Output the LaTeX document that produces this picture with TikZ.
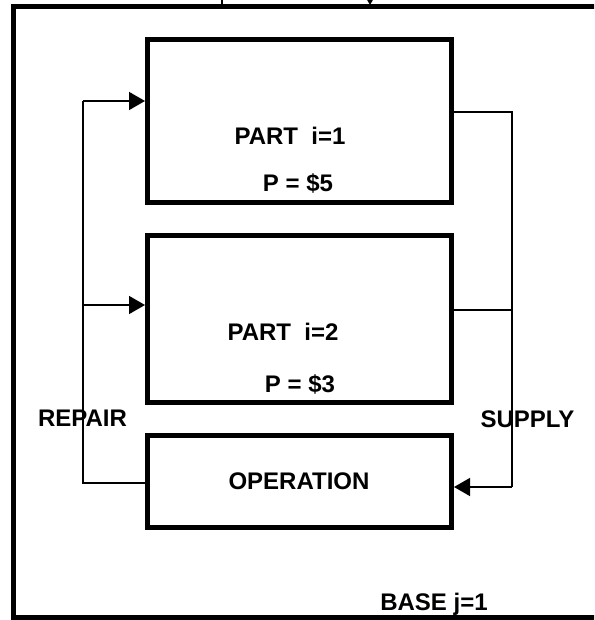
\documentclass[tikz,border=0pt]{standalone}
\usepackage{fontspec}
\setmainfont{Liberation Sans}
\usetikzlibrary{arrows.meta}
\tikzset{
  box/.style={draw, line width=5pt, inner sep=0pt},
  lbl/.style={inner sep=0pt, font=\bfseries\fontsize{24}{28}\selectfont},
  flow/.style={line width=1.5pt},
  tip/.style={-{Triangle[length=16pt,width=18pt]}}
}
\begin{document}
\begin{tikzpicture}[x=1pt,y=-1pt]
        \clip (0,0) rectangle (594,620);
        % Cornice
        \draw [line width=5pt] (620,7) -- (13,7) -- (13,617) -- (620,617);
        \draw [flow] (222,-5) -- (222,7);
        \coordinate (intop) at (370,-30);
        \coordinate (inend) at (370,5);
        \draw [flow,tip] (intop) -- (inend);

        % Riquadri
        \node [box, minimum width=304pt, minimum height=163pt] (part1) at (299.5,121) {};
        \node [box, minimum width=304pt, minimum height=167pt] (part2) at (299.5,318.5) {};
        \node [box, minimum width=304pt, minimum height=92pt] (op) at (299.5,481) {};

        % Testi
        \node [lbl] (t1) at (290,136) {PART\ \ i=1};
        \node [lbl] (p1) at (298,183) {P = \$5};
        \node [lbl] (t2) at (283,332) {PART\ \ i=2};
        \node [lbl] (p2) at (300,384) {P = \$3};
        \node [lbl] (t3) at (299,481) {OPERATION};
        \node [lbl] (rep) at (82.5,418) {REPAIR};
        \node [lbl] (sup) at (527.5,419) {SUPPLY};
        \node [lbl] (base) at (434,604) {BASE j=1};

        % Ritorno e fornitura
        \coordinate (rl) at (83,0);
        \coordinate (rr) at (512,0);
        \draw [flow] (op.west |- 0,483) -- (rl |- 0,483) -- (rl |- 0,101);
        \draw [flow,tip] (rl |- 0,101) -- (part1.west |- 0,101);
        \draw [flow,tip] (rl |- 0,305) -- (part2.west |- 0,305);
        \draw [flow] (part1.east |- 0,112) -- (rr |- 0,112) -- (rr |- 0,487);
        \draw [flow,tip] (rr |- 0,487) -- (op.east |- 0,487);
        \draw [flow] (part2.east |- 0,310) -- (rr |- 0,310);
    \end{tikzpicture}
\end{document}
